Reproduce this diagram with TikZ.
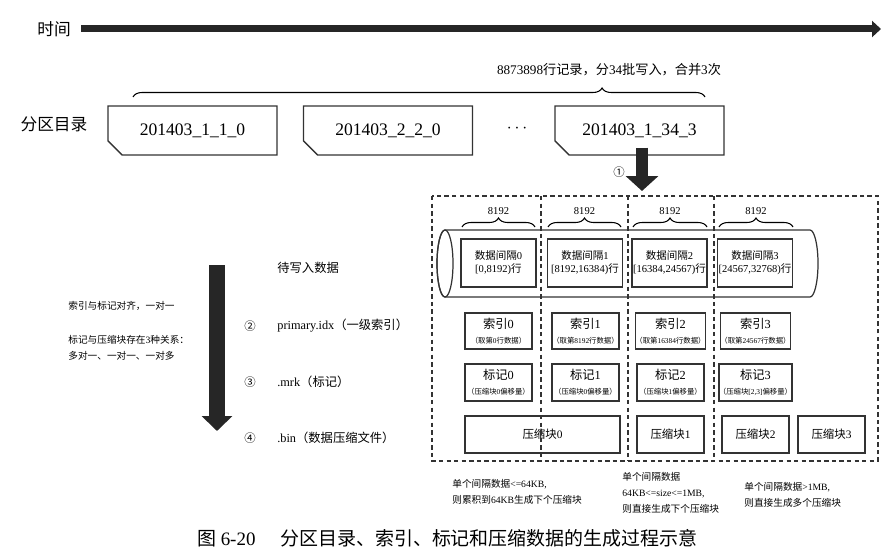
\documentclass[tikz,border=0pt]{standalone}
\usepackage{fontspec}
\setmainfont{Liberation Serif}
\newfontfamily\cjk{Noto Sans CJK SC}
% switch to the CJK font around Chinese characters
\XeTeXinterchartokenstate=1
\newXeTeXintercharclass\zhclass
\newcount\zhcode
\def\zhrange#1#2{\zhcode=#1\relax
  \loop\XeTeXcharclass\zhcode=\zhclass
  \ifnum\zhcode<#2\relax\advance\zhcode by 1\repeat}
\zhrange{"3000}{"303F}
\zhrange{"4E00}{"9FFF}
\zhrange{"FF01}{"FF5E}
\XeTeXinterchartoks 0 \zhclass = {\cjk}
\XeTeXinterchartoks 4095 \zhclass = {\cjk}
\XeTeXinterchartoks \zhclass 0 = {\rmfamily}
\XeTeXinterchartoks \zhclass 4095 = {\rmfamily}
\newcommand\subtext{\fontsize{4.2}{5}\selectfont}
\usetikzlibrary{positioning, arrows.meta, shapes.misc, decorations.pathreplacing}

\begin{document}
\begin{tikzpicture}[
    x=0.02cm, y=-0.02cm,
    every node/.style={inner sep=0pt},
    title/.style={font=\fontsize{9.5}{11}\selectfont},
    part/.style={chamfered rectangle, chamfered rectangle corners=south west,
        chamfered rectangle xsep=4.5pt, chamfered rectangle ysep=4pt,
        draw=black!80, line width=0.8pt, minimum width=3.38cm, minimum height=0.98cm,
        font=\fontsize{10}{12}\selectfont},
    note/.style={font=\fontsize{7.5}{9}\selectfont},
    tiny/.style={font=\fontsize{5.5}{9}\selectfont, align=left},
    label/.style={font=\fontsize{7}{9}\selectfont},
    num/.style={font=\fontsize{6.5}{8}\selectfont\cjk},
    cell/.style={draw=black!80, line width=0.9pt, minimum width=1.5cm, minimum height=0.96cm,
        align=center, font=\fontsize{6}{7.4}\selectfont},
    idx/.style={draw=black!80, line width=0.9pt, minimum width=1.34cm, minimum height=0.73cm,
        align=center, font=\fontsize{7}{8.5}\selectfont},
    blk/.style={idx, font=\fontsize{6.5}{8}\selectfont},
    frame/.style={dashed, dash pattern=on 2.5pt off 1.8pt, line width=0.6pt, black!80},
    bracket/.style={decorate, decoration={brace, amplitude=0.18cm}, line width=0.6pt},
    timearrow/.style={line width=0.14cm, black!85, -{Triangle[length=0.18cm, width=0.32cm]}},
    fatarrow/.style={line width=0.24cm, black!85, -{Triangle[length=0.3cm, width=0.64cm]}},
    bigarrow/.style={line width=0.32cm, black!85, -{Triangle[length=0.3cm, width=0.6cm]}}
]
\useasboundingbox (0,0) rectangle (895,554);

% === TIME AXIS ===
\node[title] (time) at (54,29) {时间};
\coordinate (tend) at (881,29);
\draw[timearrow] ([xshift=0.2cm]time.east) -- (tend);

% === PARTITION DIRECTORIES ===
\node[title] (dir) at (54,124) {分区目录};
\node[part] (p1) at (192.5,130.5) {201403\_1\_1\_0};
\node[part] (p2) at (388,130.5) {201403\_2\_2\_0};
\node (dots) at (517,129) {$\cdots$};
\node[part] (p3) at (639.5,130.5) {201403\_1\_34\_3};

\draw[bracket, decoration={aspect=0.82}] (133,97) -- (705,97);
\node[note] (rows) at (609,70) {8873898行记录，分34批写入，合并3次};

% Arrow into the part
\coordinate (a1) at (642,191);
\draw[fatarrow] ([yshift=0.16cm]p3.south -| a1) -- (a1);
\node[num] (n1) at (619,172) {①};

% === INSIDE THE PART ===
\draw[frame] (432,196) rectangle (878,461);

\node[cell, draw=none, font=\fontsize{6}{7}\selectfont] (g0) at (498.5,211) {8192};
\node[cell, draw=none, font=\fontsize{6}{7}\selectfont] (g1) at (584.5,211) {8192};
\node[cell, draw=none, font=\fontsize{6}{7}\selectfont] (g2) at (670,211) {8192};
\node[cell, draw=none, font=\fontsize{6}{7}\selectfont] (g3) at (756,211) {8192};
\draw[bracket] (462,227) -- (535,227);
\draw[bracket] (548,227) -- (621,227);
\draw[bracket] (633,227) -- (707,227);
\draw[bracket] (719,227) -- (793,227);

% data lying in a cylinder
\draw[line width=0.7pt, black!80] (810,230) -- (445,230)
    arc[start angle=90, end angle=270, x radius=0.16cm, y radius=0.67cm] -- (810,297)
    arc[start angle=-90, end angle=90, x radius=0.16cm, y radius=0.67cm];
\draw[line width=0.7pt, black!80] (445,263.5) ellipse[x radius=0.16cm, y radius=0.67cm];

\node[cell] (d0) at (498.5,263) {数据间隔0\\{}[0,8192)行};
\node[cell] (d1) at (585,263) {数据间隔1\\{}[8192,16384)行};
\node[cell] (d2) at (669.5,263) {数据间隔2\\{}[16384,24567)行};
\node[cell] (d3) at (755,263) {数据间隔3\\{}[24567,32768)行};

\node[idx] (i0) at (498.5,331) {索引0\\{\subtext （取第0行数据）}};
\node[idx] (i1) at (585.5,331) {索引1\\{\subtext （取第8192行数据）}};
\node[idx] (i2) at (670.5,331) {索引2\\{\subtext （取第16384行数据）}};
\node[idx] (i3) at (755.5,331) {索引3\\{\subtext （取第24567行数据）}};

\node[idx] (m0) at (498.5,382.5) {标记0\\{\subtext （压缩块0偏移量）}};
\node[idx] (m1) at (585.5,382.5) {标记1\\{\subtext （压缩块0偏移量）}};
\node[idx] (m2) at (670.5,382.5) {标记2\\{\subtext （压缩块1偏移量）}};
\node[idx] (m3) at (755.5,382.5) {标记3\\{\subtext （压缩块[2,3]偏移量）}};

\node[blk, minimum width=3.1cm] (c0) at (542.5,434.5) {压缩块0};
\node[blk] (c1) at (670.5,434.5) {压缩块1};
\node[blk] (c2) at (755.5,434.5) {压缩块2};
\node[blk] (c3) at (831.5,434.5) {压缩块3};

\draw[frame] (541,196) -- (541,461);
\draw[frame] (628,196) -- (628,461);
\draw[frame] (714,196) -- (714,461);

% === WRITE ORDER ===
\coordinate (ltop) at (217,265);
\coordinate (lbot) at (217,431);
\draw[bigarrow] (ltop) -- (lbot);

\node[tiny, anchor=west] (r1) at (68,306) {索引与标记对齐，一对一};
\node[tiny, anchor=west] (r2) at (68,348) {标记与压缩块存在3种关系：\\多对一、一对一、一对多};

\node[label, anchor=west] (w0) at (277,268) {待写入数据};
\node[num] (n2) at (250,326) {②};
\node[label, anchor=west] (w1) at (277,326) {primary.idx（一级索引）};
\node[num] (n3) at (250,382) {③};
\node[label, anchor=west] (w2) at (277,382) {.mrk（标记）};
\node[num] (n4) at (250,438) {④};
\node[label, anchor=west] (w3) at (277,438) {.bin（数据压缩文件）};

% Notes below
\node[tiny, anchor=west] (t1) at (452,491.5) {单个间隔数据<=64KB,\\则累积到64KB生成下个压缩块};
\node[tiny, anchor=west] (t2) at (622,493) {单个间隔数据\\64KB<=size<=1MB,\\则直接生成下个压缩块};
\node[tiny, anchor=west] (t3) at (744,495) {单个间隔数据>1MB,\\则直接生成多个压缩块};

\node[font=\fontsize{10.8}{13}\selectfont, anchor=east] (cap) at (698,538)
    {图 6-20\hspace{1.3em}分区目录、索引、标记和压缩数据的生成过程示意};

\end{tikzpicture}
\end{document}
